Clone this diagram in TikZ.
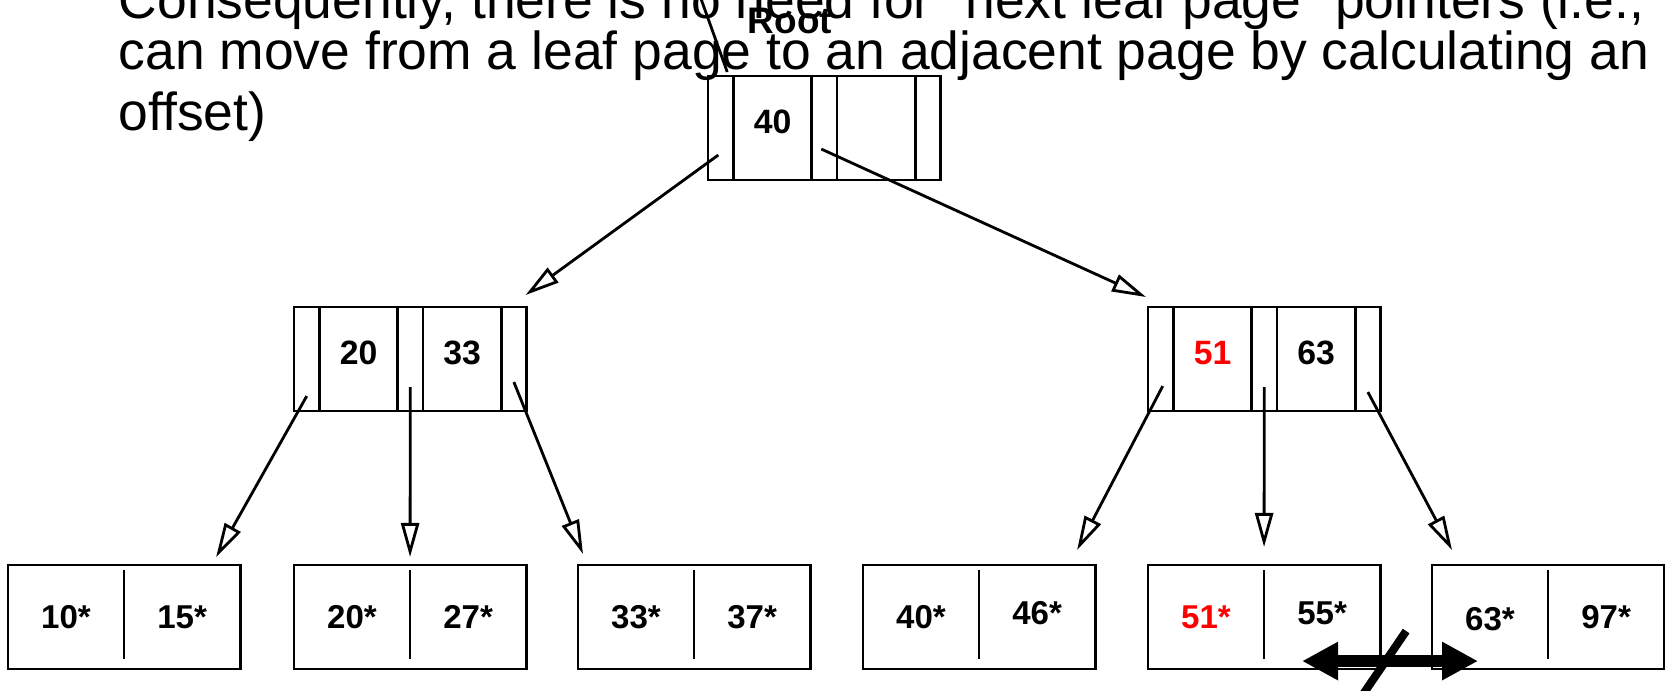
\documentclass[tikz,border=0pt]{standalone}
\usepackage{fontspec}
\setmainfont{Liberation Sans}
\setsansfont{Liberation Sans}
\newfontfamily\slidefont{Liberation Sans}
\usetikzlibrary{arrows.meta,positioning}

\begin{document}
\begin{tikzpicture}[x=0.01cm,y=-0.01cm,font=\sffamily,
    cell/.style={draw,line width=0.8pt,inner sep=0pt,outer sep=0pt,
      minimum height=10.4mm},
    ptr/.style={cell,minimum width=2.55mm},
    key/.style={cell,minimum width=7.8mm,text depth=1.2mm,
      font=\sffamily\bfseries\fontsize{9.6}{11}\selectfont},
    leaf/.style={cell,minimum width=23.2mm},
    entry/.style={inner sep=0pt,
      font=\sffamily\bfseries\fontsize{9.4}{11}\selectfont},
    slide/.style={anchor=base west,inner sep=0pt,
      font=\slidefont\fontsize{15.2}{18}\selectfont},
    child/.style={line width=0.8pt,
      -{Triangle[open,length=3.4mm,width=1.8mm]}},
    sibling/.style={line width=3.2pt,
      {Triangle[length=3.6mm,width=3.6mm]}-{Triangle[length=3.6mm,width=3.6mm]}}]
  \path[use as bounding box] (0,0) rectangle (1665,690);
  \clip (0,0) rectangle (1665,690);

  % slide text behind the tree
  \node[slide] (txt1) at (118,18)
    {Consequently, there is no need for "next leaf page" pointers (i.e.,};
  \node[slide] (txt2) at (118,69)
    {can move from a leaf page to an adjacent page by calculating an};
  \node[slide] (txt3) at (118,130) {offset)};

  % root page
  \node[ptr,anchor=north west] (r0) at (708,76) {};
  \node[key,right=0pt of r0] (r1) {40};
  \node[ptr,right=0pt of r1] (r2) {};
  \node[key,right=0pt of r2] (r3) {};
  \node[ptr,right=0pt of r3] (r4) {};
  \node[font=\bfseries\fontsize{10.5}{12}\selectfont,anchor=base]
    (rootlbl) at (790,33) {Root};
  \coordinate (rootpin) at (700,-4);
  \draw[line width=0.8pt] (rootpin) -- ([shift={(0.65mm,0.4mm)}]r0.north);

  % index pages
  \node[ptr,anchor=north west] (a0) at (294,307) {};
  \node[key,right=0pt of a0] (a1) {20};
  \node[ptr,right=0pt of a1] (a2) {};
  \node[key,right=0pt of a2] (a3) {33};
  \node[ptr,right=0pt of a3] (a4) {};

  \node[ptr,anchor=north west] (b0) at (1148,307) {};
  \node[key,right=0pt of b0,text=red] (b1) {51};
  \node[ptr,right=0pt of b1] (b2) {};
  \node[key,right=0pt of b2] (b3) {63};
  \node[ptr,right=0pt of b3] (b4) {};

  % leaf pages
  \node[leaf,anchor=north west] (l1) at (8,565) {};
  \node[entry] (l1a) at ([xshift=-5.8mm]l1.center) {10*};
  \node[entry] (l1b) at ([xshift=5.8mm]l1.center) {15*};
  \draw[line width=0.8pt] ([yshift=-0.5mm]l1.north) -- ([yshift=1mm]l1.south);

  \node[leaf,anchor=north west] (l2) at (294,565) {};
  \node[entry] (l2a) at ([xshift=-5.8mm]l2.center) {20*};
  \node[entry] (l2b) at ([xshift=5.8mm]l2.center) {27*};
  \draw[line width=0.8pt] ([yshift=-0.5mm]l2.north) -- ([yshift=1mm]l2.south);

  \node[leaf,anchor=north west] (l3) at (578,565) {};
  \node[entry] (l3a) at ([xshift=-5.8mm]l3.center) {33*};
  \node[entry] (l3b) at ([xshift=5.8mm]l3.center) {37*};
  \draw[line width=0.8pt] ([yshift=-0.5mm]l3.north) -- ([yshift=1mm]l3.south);

  \node[leaf,anchor=north west] (l4) at (863,565) {};
  \node[entry] (l4a) at ([xshift=-5.8mm]l4.center) {40*};
  \node[entry] (l4b) at ([shift={(5.8mm,0.4mm)}]l4.center) {46*};
  \draw[line width=0.8pt] ([yshift=-0.5mm]l4.north) -- ([yshift=1mm]l4.south);

  \node[leaf,anchor=north west] (l5) at (1148,565) {};
  \node[entry,text=red] (l5a) at ([xshift=-5.8mm]l5.center) {51*};
  \node[entry] (l5b) at ([shift={(5.8mm,0.4mm)}]l5.center) {55*};
  \draw[line width=0.8pt] ([yshift=-0.5mm]l5.north) -- ([yshift=1mm]l5.south);

  \node[leaf,anchor=north west] (l6) at (1432,565) {};
  \node[entry] (l6a) at ([shift={(-5.8mm,-0.2mm)}]l6.center) {63*};
  \node[entry] (l6b) at ([xshift=5.8mm]l6.center) {97*};
  \draw[line width=0.8pt] ([yshift=-0.5mm]l6.north) -- ([yshift=1mm]l6.south);

  % child pointers
  \draw[child] ([shift={(-0.25mm,-2.7mm)}]r0.center)
    -- ([shift={(-0.1mm,1.2mm)}]a4.north east);
  \draw[child] ([shift={(-0.3mm,-2.1mm)}]r2.center)
    -- ([shift={(-0.2mm,1mm)}]b0.north west);
  \draw[child] ([yshift=-3.7mm]a0.center)
    -- ([shift={(-2.4mm,0.8mm)}]l1.north east);
  \draw[child] ([yshift=-2.8mm]a2.center) -- ([yshift=0.8mm]l2.north);
  \draw[child] ([yshift=-2.3mm]a4.center)
    -- ([shift={(0.5mm,1.1mm)}]l3.north west);
  \draw[child] ([shift={(0.2mm,-2.7mm)}]b0.center)
    -- ([shift={(-1.8mm,1.5mm)}]l4.north east);
  \draw[child] ([yshift=-2.8mm]b2.center) -- ([yshift=1.8mm]l5.north);
  \draw[child] ([yshift=-3.3mm]b4.center)
    -- ([shift={(2mm,1.5mm)}]l6.north west);

  % crossed-out sibling link
  \draw[sibling] ([shift={(-7.8mm,0.8mm)}]l5.south east)
    -- ([shift={(4.6mm,0.8mm)}]l6.south west);
  \draw[line width=2.3pt] ([shift={(2.6mm,3.8mm)}]l5.south east)
    -- ([shift={(-1.9mm,-2.8mm)}]l5.south east);
\end{tikzpicture}
\end{document}
